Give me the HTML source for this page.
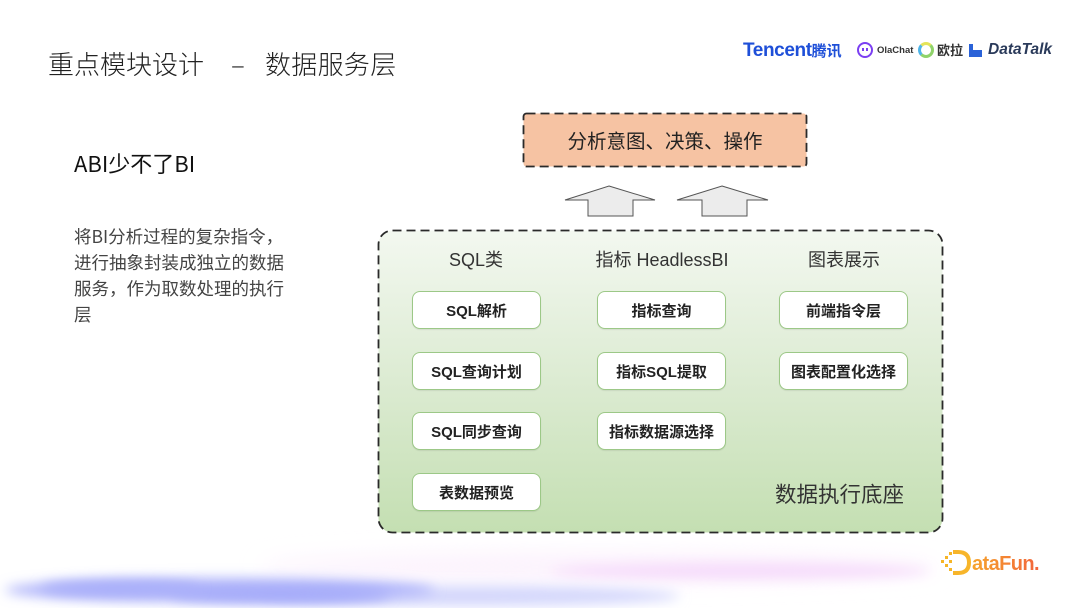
<!DOCTYPE html>
<html><head><meta charset="utf-8"><style>
*{margin:0;padding:0;box-sizing:border-box}
html,body{width:1080px;height:608px;overflow:hidden;background:#fff;font-family:"Liberation Sans","Noto Sans CJK SC",sans-serif}
.abs{position:absolute}
.t{position:absolute;white-space:nowrap}
.box{position:absolute;width:129px;height:38px;background:#fff;border:1px solid #9cc887;border-radius:8px;display:flex;align-items:center;justify-content:center;font-size:15px;font-weight:bold;color:#222;box-shadow:0 1px 1px rgba(0,0,0,.08)}
.hdr{position:absolute;font-size:18px;color:#333;white-space:nowrap;transform:translateX(-50%);line-height:24px}
</style></head><body>

<svg class="abs" style="left:0;top:0" width="1080" height="608">
<defs>
<filter id="bl" x="-50%" y="-300%" width="200%" height="700%"><feGaussianBlur stdDeviation="6"/></filter>
<filter id="bl2" x="-50%" y="-300%" width="200%" height="700%"><feGaussianBlur stdDeviation="11"/></filter>
<linearGradient id="gg" x1="0" y1="0" x2="0" y2="1">
<stop offset="0" stop-color="#f3f8f0"/><stop offset="0.5" stop-color="#dcebd2"/><stop offset="1" stop-color="#c4dfb2"/>
</linearGradient>
</defs>
<!-- pink glow -->
<ellipse cx="600" cy="567" rx="340" ry="14" fill="#fcf2fd" filter="url(#bl2)"/>
<ellipse cx="740" cy="571" rx="190" ry="8" fill="#f6dcfb" filter="url(#bl)"/>
<!-- blue glow -->
<ellipse cx="470" cy="596" rx="210" ry="10" fill="#d4d7fc" filter="url(#bl)"/>
<ellipse cx="220" cy="590" rx="215" ry="12" fill="#b0b5fa" filter="url(#bl)"/>
<ellipse cx="280" cy="595" rx="110" ry="7" fill="#a4aaf9" filter="url(#bl)"/>
<ellipse cx="120" cy="588" rx="80" ry="7" fill="#a9aff9" filter="url(#bl)"/>

<!-- top box -->
<rect x="523.5" y="113.5" width="283" height="53" rx="3" fill="#f6c3a3" stroke="#2a2a2a" stroke-width="1.8" stroke-dasharray="9 5"/>

<!-- arrows -->
<path d="M609 186 L655 200 L633 200 L633 216 L588 216 L588 200 L565 200 Z" fill="#ececec" stroke="#555" stroke-width="1"/>
<path d="M722 186 L768 200 L747 200 L747 216 L702 216 L702 200 L677 200 Z" fill="#ececec" stroke="#555" stroke-width="1"/>

<!-- main box -->
<rect x="378.5" y="230.5" width="564" height="302" rx="14" fill="url(#gg)" stroke="#2a2a2a" stroke-width="1.8" stroke-dasharray="9 5"/>

<!-- DataFun logo dots -->
<g fill="#f6b526">
<rect x="941" y="560" width="3" height="3"/><rect x="945" y="556" width="3" height="3"/><rect x="945" y="564" width="3" height="3"/><rect x="949" y="560" width="3" height="3"/><rect x="949" y="568" width="3" height="3"/><rect x="949" y="552" width="3" height="3"/>
</g>
<path d="M953 552 L958 552 Q969 552 969 562.5 Q969 573 958 573 L953 573" fill="none" stroke="#f7b52a" stroke-width="4"/>
</svg>

<!-- title -->
<div class="t" style="left:48px;top:48px;font-size:26px;color:#222;line-height:32px;font-family:'Noto Sans CJK SC',sans-serif;font-weight:300">重点模块设计</div>
<div class="t" style="left:231px;top:48px;font-size:26px;color:#222;line-height:32px;font-family:'Noto Sans CJK SC',sans-serif;font-weight:300">–</div>
<div class="t" style="left:265px;top:48px;font-size:26px;color:#222;line-height:32px;font-family:'Noto Sans CJK SC',sans-serif;font-weight:300;letter-spacing:0.3px">数据服务层</div>

<!-- logos -->
<div class="t" style="left:743px;top:39px;font-size:19px;font-weight:bold;color:#1e4fd8;line-height:24px;letter-spacing:-0.4px">Tencent<span style="font-family:'Noto Sans CJK SC',sans-serif;font-size:15px;letter-spacing:0">腾讯</span></div>
<div class="abs" style="left:857px;top:42px;width:16px;height:16px;border-radius:50%;border:2.5px solid #7b3ff2"></div>
<div class="abs" style="left:862px;top:48px;width:2px;height:3px;background:#7b3ff2"></div>
<div class="abs" style="left:866px;top:48px;width:2px;height:3px;background:#7b3ff2"></div>
<div class="t" style="left:877px;top:44px;font-size:9.5px;font-weight:bold;color:#333;line-height:14px">OlaChat</div>
<div class="abs" style="left:918px;top:42px;width:16px;height:16px;border-radius:50%;border:3px solid #8fd36a;border-left-color:#4fb4e8;border-top-color:#e4e45a"></div>
<div class="t" style="left:937px;top:41px;font-size:13px;font-weight:bold;color:#333;line-height:18px;font-family:'Noto Sans CJK SC',sans-serif">欧拉</div>
<div class="abs" style="left:969px;top:44px;width:4px;height:13px;background:#2a62d8"></div>
<div class="abs" style="left:973px;top:50px;width:9px;height:7px;background:#2a62d8"></div>
<div class="t" style="left:988px;top:40px;font-size:15.5px;font-weight:bold;font-style:italic;color:#2a3a5a;line-height:20px">DataTalk</div>

<!-- left text -->
<div class="t" style="left:74px;top:149px;font-size:22px;color:#111;line-height:28px;font-family:'Noto Sans CJK SC',sans-serif">ABI少不了BI</div>
<div class="abs" style="left:74px;top:224px;width:230px;font-size:17.5px;color:#444;line-height:26px;font-family:'Noto Sans CJK SC',sans-serif">将BI分析过程的复杂指令，<br>进行抽象封装成独立的数据<br>服务，作为取数处理的执行<br>层</div>

<!-- top box text -->
<div class="t" style="left:523px;top:126px;width:284px;text-align:center;font-size:19.5px;color:#222;line-height:28px;font-family:'Noto Sans CJK SC',sans-serif">分析意图、决策、操作</div>

<!-- headers -->
<div class="hdr" style="left:476px;top:248px">SQL类</div>
<div class="hdr" style="left:662px;top:248px">指标 HeadlessBI</div>
<div class="hdr" style="left:844px;top:248px">图表展示</div>

<!-- column 1 -->
<div class="box" style="left:412px;top:291px">SQL解析</div>
<div class="box" style="left:412px;top:352px">SQL查询计划</div>
<div class="box" style="left:412px;top:412px">SQL同步查询</div>
<div class="box" style="left:412px;top:473px">表数据预览</div>
<!-- column 2 -->
<div class="box" style="left:597px;top:291px">指标查询</div>
<div class="box" style="left:597px;top:352px">指标SQL提取</div>
<div class="box" style="left:597px;top:412px">指标数据源选择</div>
<!-- column 3 -->
<div class="box" style="left:779px;top:291px">前端指令层</div>
<div class="box" style="left:779px;top:352px">图表配置化选择</div>

<div class="t" style="left:775px;top:480px;font-size:21.5px;color:#333;line-height:28px;font-family:'Noto Sans CJK SC',sans-serif">数据执行底座</div>

<!-- DataFun -->
<div class="t" style="left:972px;top:552px;font-size:20px;font-weight:bold;color:#f27a3a;line-height:24px;letter-spacing:-0.6px;background:linear-gradient(90deg,#f6a42c,#f2653c);-webkit-background-clip:text;background-clip:text;-webkit-text-fill-color:transparent">ataFun.</div>

</body></html>
